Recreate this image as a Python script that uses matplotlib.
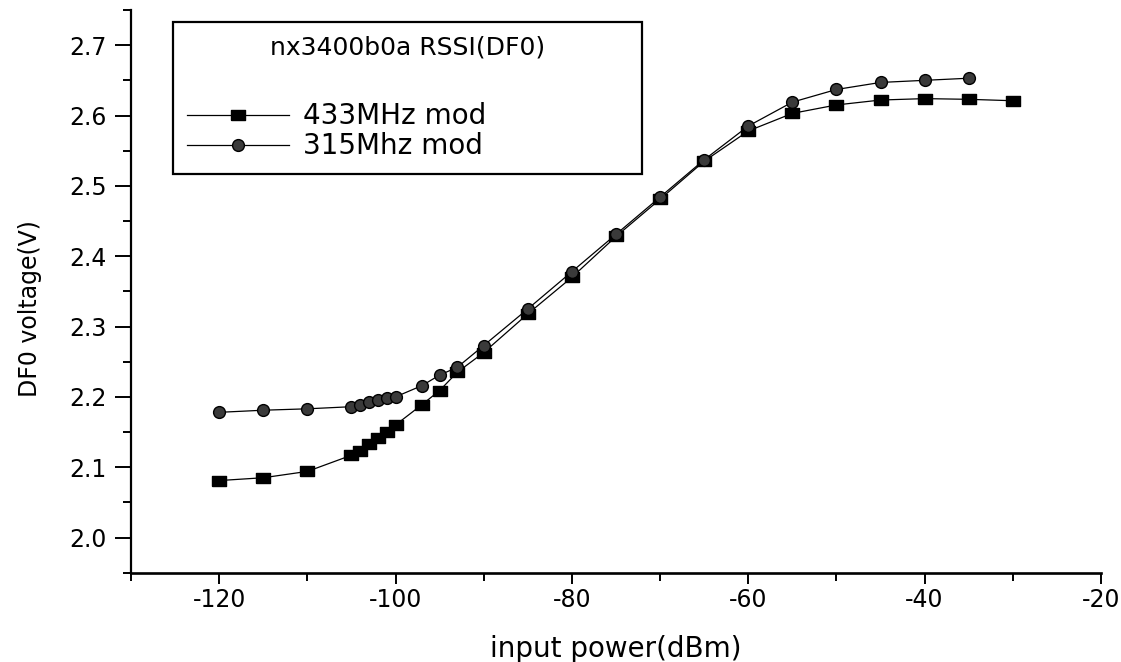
import numpy as np
import matplotlib.pyplot as plt
from matplotlib.ticker import MultipleLocator

plt.rcParams['font.family'] = 'DejaVu Sans'
plt.rcParams['axes.unicode_minus'] = False

# DF0 (RSSI) output voltage vs input power, two modulated carriers
power_433 = [-120, -115, -110, -105, -104, -103, -102, -101, -100, -97, -95, -93,
             -90, -85, -80, -75, -70, -65, -60, -55, -50, -45, -40, -35, -30]
df0_433 = [2.081, 2.085, 2.094, 2.117, 2.123, 2.133, 2.141, 2.150, 2.160, 2.189, 2.209, 2.235,
           2.263, 2.318, 2.370, 2.428, 2.481, 2.535, 2.578, 2.603, 2.615, 2.622, 2.624, 2.623, 2.621]

power_315 = [-120, -115, -110, -105, -104, -103, -102, -101, -100, -97, -95, -93,
             -90, -85, -80, -75, -70, -65, -60, -55, -50, -45, -40, -35]
df0_315 = [2.178, 2.181, 2.183, 2.186, 2.189, 2.193, 2.196, 2.198, 2.200, 2.216, 2.231, 2.242,
           2.273, 2.325, 2.378, 2.431, 2.484, 2.537, 2.585, 2.619, 2.637, 2.647, 2.650, 2.653]

legend_title = 'nx3400b0a RSSI(DF0)'
labels = ['433MHz mod', '315Mhz mod']

# slightly wide square marker
rect = [(-1.35, -1), (1.35, -1), (1.35, 1), (-1.35, 1), (-1.35, -1)]

fig = plt.figure(figsize=(11.21, 6.62), dpi=100)
ax = fig.add_axes([0.1169, 0.1349, 0.8652, 0.85])

ax.plot(power_433, df0_433, color='black', lw=0.9, marker=rect, markersize=10.5,
        markerfacecolor='black', markeredgecolor='black', label=labels[0])
ax.plot(power_315, df0_315, color='black', lw=0.9, marker='o', markersize=8.5,
        markerfacecolor='#3a3a3a', markeredgecolor='black', label=labels[1])

ax.set_xlim(-130, -20)
ax.set_ylim(1.95, 2.75)
ax.xaxis.set_major_locator(MultipleLocator(20))
ax.xaxis.set_minor_locator(MultipleLocator(10))
ax.yaxis.set_major_locator(MultipleLocator(0.1))
ax.yaxis.set_minor_locator(MultipleLocator(0.05))
ax.yaxis.set_major_formatter(plt.FormatStrFormatter('%.1f'))

for side in ['top', 'right']:
    ax.spines[side].set_visible(False)
ax.spines['left'].set_linewidth(1.6)
ax.spines['bottom'].set_linewidth(1.9)

ax.tick_params(axis='both', which='both', direction='out', width=1.4, labelsize=17)
ax.tick_params(axis='y', which='major', length=11.5, pad=6)
ax.tick_params(axis='y', which='minor', length=5.8)
ax.tick_params(axis='x', which='major', length=8, pad=3)
ax.tick_params(axis='x', which='minor', length=6)

ax.set_xlabel('input power(dBm)', fontsize=20)
ax.xaxis.set_label_coords(0.5, -0.11)
ax.set_ylabel('DF0 voltage(V)', fontsize=17)
ax.yaxis.set_label_coords(-0.092, 0.47)

leg = ax.legend(title=legend_title + '\n', title_fontsize=18, fontsize=20,
                loc='upper left', bbox_to_anchor=(0.1541, 0.7402, 0.4184, 0.2266),
                bbox_transform=fig.transFigure, mode='expand', borderaxespad=0,
                borderpad=0.5, labelspacing=0.08, handlelength=3.7, handletextpad=0.5,
                fancybox=False, framealpha=1, edgecolor='black')
leg.get_title().set_linespacing(1.85)
leg.get_frame().set_linewidth(1.6)

fig.savefig('out.png', dpi=100)
